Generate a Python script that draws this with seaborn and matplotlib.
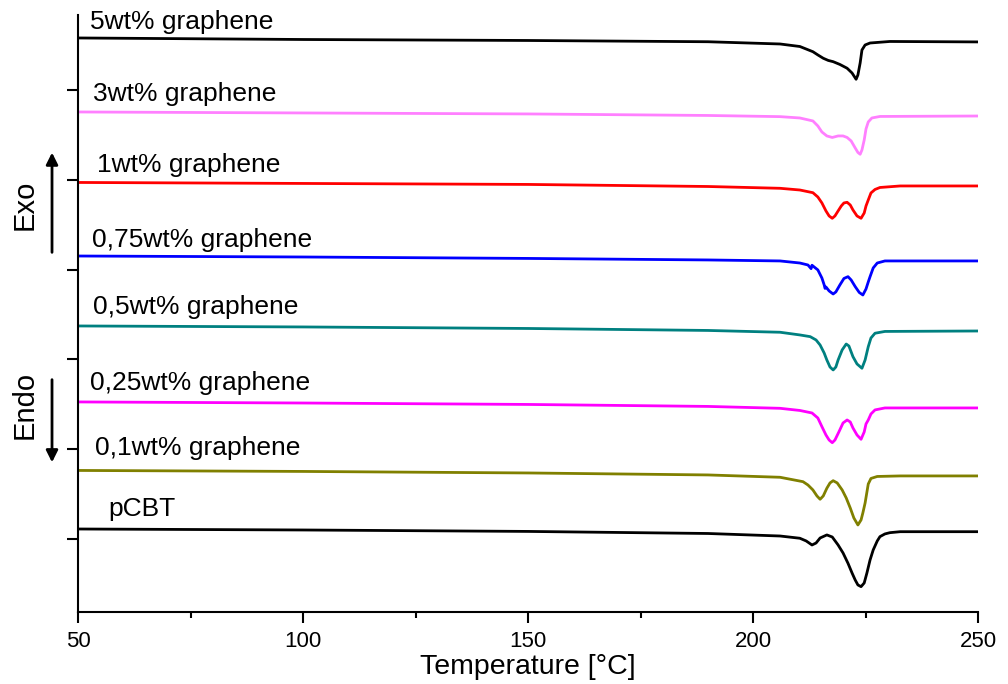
import pandas as pd
import matplotlib
matplotlib.use("Agg")
import matplotlib.pyplot as plt
from matplotlib.ticker import MultipleLocator
import seaborn as sns

# DSC traces: temperature [°C] and heat flow (arbitrary, stacked units)
samples = ["5wt% graphene", "3wt% graphene", "1wt% graphene", "0,75wt% graphene",
           "0,5wt% graphene", "0,25wt% graphene", "0,1wt% graphene", "pCBT"]
colors = ["#000000", "#FF80FF", "#FF0000", "#0000FF", "#008080", "#FF00FF", "#808000", "#000000"]

T_5 = [50, 100, 150, 190, 206.0, 210.4, 213.3, 214.4, 215.6, 216.7, 217.8, 219.3, 220.9, 222.0,
       222.9, 223.3, 223.8, 224.2, 224.9, 226.0, 230.4, 250]
Q_5 = [5.579, 5.562, 5.551, 5.537, 5.512, 5.484, 5.426, 5.390, 5.353, 5.329, 5.315, 5.284, 5.242, 5.189,
       5.119, 5.167, 5.301, 5.445, 5.501, 5.523, 5.540, 5.535]

T_3 = [50, 100, 150, 190, 206.0, 210.4, 213.3, 214.4, 215.3, 216.4, 217.6, 218.9, 220.0, 220.9, 221.8,
       222.7, 223.3, 223.8, 224.2, 224.7, 225.1, 225.6, 226.4, 228.2, 250]
Q_3 = [4.755, 4.744, 4.733, 4.716, 4.703, 4.688, 4.655, 4.599, 4.532, 4.488, 4.471, 4.488, 4.488, 4.471, 4.432,
       4.354, 4.304, 4.284, 4.332, 4.443, 4.566, 4.644, 4.688, 4.705, 4.710]

T_1 = [50, 100, 150, 190, 206.0, 210.4, 213.3, 214.4, 215.3, 216.2, 216.9, 217.6, 218.2, 218.9, 219.6,
       220.2, 220.9, 221.6, 222.2, 223.1, 224.0, 224.7, 225.1, 225.6, 226.2, 227.1, 228.2, 232.7, 250]
Q_1 = [3.970, 3.959, 3.948, 3.925, 3.905, 3.886, 3.856, 3.808, 3.742, 3.653, 3.597, 3.571, 3.597, 3.653, 3.708,
       3.742, 3.749, 3.719, 3.664, 3.597, 3.571, 3.630, 3.708, 3.775, 3.853, 3.892, 3.914, 3.931, 3.931]

T_075 = [50, 100, 150, 190, 206.0, 210.4, 212.2, 212.9, 213.1, 214.4, 215.3, 215.8, 216.0, 216.2, 216.9,
         217.8, 218.4, 219.3, 220.2, 221.1, 221.8, 222.7, 223.6, 224.4, 225.1, 225.6, 226.0, 226.7, 227.6,
         229.3, 250]
Q_075 = [3.151, 3.140, 3.124, 3.107, 3.096, 3.073, 3.051, 3.010, 3.048, 2.996, 2.906, 2.830, 2.790, 2.806, 2.762,
         2.728, 2.751, 2.829, 2.901, 2.921, 2.884, 2.810, 2.745, 2.717, 2.784, 2.862, 2.921, 3.018, 3.073,
         3.096, 3.096]

T_05 = [50, 100, 150, 190, 206.0, 210.4, 212.7, 214.0, 214.9, 215.8, 216.4, 217.1, 217.8, 218.4, 218.9,
        219.8, 220.7, 221.3, 222.2, 223.1, 224.2, 224.9, 225.6, 226.2, 227.1, 229.3, 250]
Q_05 = [2.372, 2.361, 2.344, 2.322, 2.302, 2.272, 2.253, 2.216, 2.160, 2.071, 1.993, 1.915, 1.882, 1.915, 1.993,
        2.105, 2.171, 2.149, 2.030, 1.949, 1.901, 1.993, 2.141, 2.238, 2.291, 2.311, 2.316]

T_025 = [50, 100, 150, 190, 206.0, 210.4, 213.1, 214.4, 215.3, 216.2, 216.9, 217.6, 218.2, 219.1, 220.0,
         220.9, 221.6, 222.2, 223.1, 224.0, 224.7, 225.1, 225.6, 226.2, 227.1, 229.3, 250]
Q_025 = [1.526, 1.514, 1.498, 1.476, 1.455, 1.431, 1.403, 1.347, 1.251, 1.158, 1.102, 1.072, 1.102, 1.195, 1.292,
         1.325, 1.303, 1.236, 1.158, 1.110, 1.192, 1.281, 1.325, 1.392, 1.437, 1.459, 1.459]

T_01 = [50, 100, 150, 190, 206.0, 211.1, 212.2, 213.3, 214.2, 214.9, 215.6, 216.4, 217.1, 217.8, 218.7,
        219.8, 220.7, 221.6, 222.4, 223.3, 224.0, 224.4, 224.9, 225.6, 226.2, 227.6, 232.7, 250]
Q_01 = [0.763, 0.752, 0.735, 0.713, 0.687, 0.638, 0.601, 0.546, 0.479, 0.442, 0.479, 0.565, 0.624, 0.649, 0.624,
        0.546, 0.457, 0.345, 0.234, 0.156, 0.212, 0.290, 0.401, 0.612, 0.674, 0.696, 0.702, 0.702]

T_pcbt = [50, 100, 150, 190, 206.0, 210.4, 211.8, 213.1, 214.0, 214.9, 216.4, 217.6, 218.9, 220.0, 221.1,
          222.0, 222.7, 223.3, 224.0, 224.7, 225.3, 226.0, 226.7, 227.6, 228.2, 229.3, 230.4, 232.7, 250]
Q_pcbt = [0.111, 0.100, 0.084, 0.061, 0.033, 0.008, -0.022, -0.067, -0.045, 0.011, 0.045, 0.022, -0.067, -0.156,
          -0.271, -0.379, -0.457, -0.512, -0.531, -0.490, -0.379, -0.234, -0.122, -0.022, 0.026, 0.056, 0.070,
          0.081, 0.081]

# label anchors (left edge, centre) in data units
label_T = [52.7, 53.3, 54.2, 53.1, 53.3, 52.7, 53.8, 56.7]
label_Q = [5.76, 4.956, 4.165, 3.33, 2.584, 1.737, 1.014, 0.334]

temps = [T_5, T_3, T_1, T_075, T_05, T_025, T_01, T_pcbt]
flows = [Q_5, Q_3, Q_1, Q_075, Q_05, Q_025, Q_01, Q_pcbt]

frames = [pd.DataFrame({"T": t, "Q": q, "sample": s}) for t, q, s in zip(temps, flows, samples)]
df = pd.concat(frames, ignore_index=True)

sns.set_style("ticks", {"text.color": "black", "axes.labelcolor": "black", "axes.edgecolor": "black",
                        "xtick.color": "black", "ytick.color": "black"})
plt.rcParams["font.family"] = ["Liberation Sans", "DejaVu Sans"]
plt.rcParams["axes.linewidth"] = 1.5

fig = plt.figure(figsize=(10.08, 6.84), dpi=100)
ax = fig.add_axes([0.0774, 0.1053, 0.8929, 0.8728])

sns.lineplot(data=df, x="T", y="Q", hue="sample", hue_order=samples,
             palette=dict(zip(samples, colors)), estimator=None, sort=False,
             linewidth=2.0, legend=False, ax=ax)

for s, x, y in zip(samples, label_T, label_Q):
    ax.text(x, y, s, fontsize=19, ha="left", va="center", color="black")

ax.set_xlim(50, 250)
ax.set_ylim(-0.813, 5.835)
ax.xaxis.set_major_locator(MultipleLocator(50))
ax.xaxis.set_minor_locator(MultipleLocator(25))
ax.set_yticks([0, 1, 2, 3, 4, 5])
ax.set_yticklabels([])
ax.tick_params(axis="x", which="major", length=8, width=1.5, labelsize=16, direction="out", pad=6)
ax.tick_params(axis="x", which="minor", length=4, width=1.5, direction="out")
ax.tick_params(axis="y", which="major", length=8, width=1.5, direction="out")
ax.set_xlabel("Temperature [°C]", fontsize=20.5, labelpad=1)
ax.set_ylabel("")
sns.despine(ax=ax)

# Exo / Endo markers at the left margin
fig.text(0.0248, 0.700, "Exo", rotation=90, fontsize=21, ha="center", va="center")
fig.text(0.0248, 0.408, "Endo", rotation=90, fontsize=21, ha="center", va="center")
fig.add_artist(matplotlib.patches.FancyArrowPatch((0.0516, 0.627), (0.0516, 0.781), transform=fig.transFigure,
                                                  arrowstyle="-|>,head_length=7,head_width=3.5", lw=2, color="black"))
fig.add_artist(matplotlib.patches.FancyArrowPatch((0.0516, 0.449), (0.0516, 0.320), transform=fig.transFigure,
                                                  arrowstyle="-|>,head_length=7,head_width=3.5", lw=2, color="black"))

fig.savefig("out.png", dpi=100)
